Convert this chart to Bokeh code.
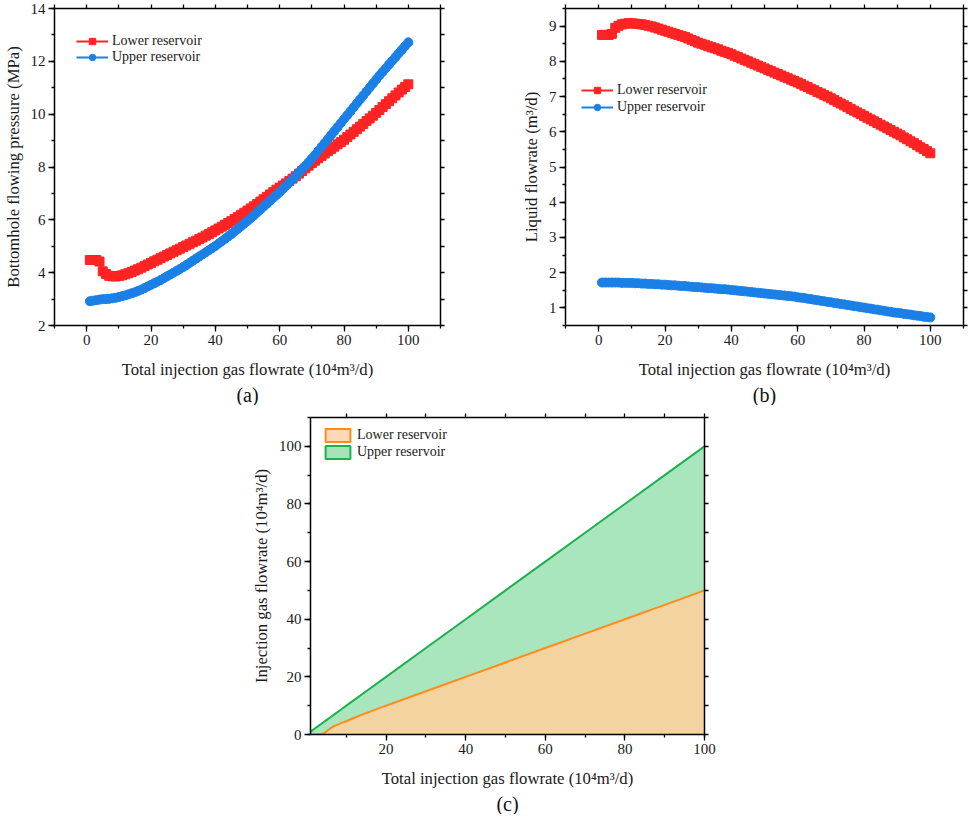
from bokeh.plotting import figure
from bokeh.models import (LinearAxis, SingleIntervalTicker, FixedTicker, Range1d, Legend,
                          LegendItem, Title, ColumnDataSource, Spacer)
from bokeh.layouts import row, column
from bokeh.embed import file_html
from bokeh.resources import INLINE

FONT = "Liberation Serif"
RED = "#FF2424"
BLUE = "#1A80E6"
ORANGE_LINE = "#FF8C1A"
GREEN_LINE = "#1DB04E"
ORANGE_FILL = "#F3D3A0"
GREEN_FILL = "#A9E5BD"
ORANGE_PATCH = "#FFD9B5"
GREEN_PATCH = "#A8E2BB"

# ---------------- data ----------------
total_gas = list(range(1, 101))

# (a) bottomhole flowing pressure (MPa)
bhp_lower = [4.48, 4.48, 4.48, 4.42, 4.05, 3.95, 3.88, 3.86, 3.86, 3.87,
             3.90, 3.94, 3.98, 4.03, 4.08, 4.13, 4.19, 4.25, 4.31, 4.37,
             4.43, 4.49, 4.55, 4.61, 4.67, 4.73, 4.79, 4.85, 4.91, 4.97,
             5.03, 5.09, 5.15, 5.21, 5.27, 5.33, 5.40, 5.46, 5.53, 5.60,
             5.67, 5.74, 5.81, 5.88, 5.95, 6.03, 6.11, 6.19, 6.27, 6.35,
             6.43, 6.51, 6.60, 6.69, 6.78, 6.87, 6.96, 7.05, 7.14, 7.22,
             7.30, 7.38, 7.47, 7.56, 7.65, 7.75, 7.85, 7.95, 8.05, 8.15,
             8.24, 8.33, 8.42, 8.51, 8.60, 8.68, 8.77, 8.86, 8.94, 9.03,
             9.13, 9.23, 9.33, 9.43, 9.53, 9.63, 9.74, 9.84, 9.94, 10.05,
             10.16, 10.27, 10.38, 10.49, 10.60, 10.71, 10.82, 10.93, 11.03, 11.13]
bhp_upper = [2.92, 2.94, 2.96, 2.98, 3.00, 3.00, 3.01, 3.03, 3.05, 3.08,
             3.11, 3.14, 3.18, 3.22, 3.26, 3.31, 3.36, 3.42, 3.48, 3.54,
             3.60, 3.66, 3.72, 3.79, 3.86, 3.93, 4.00, 4.07, 4.14, 4.21,
             4.29, 4.37, 4.45, 4.53, 4.61, 4.69, 4.77, 4.85, 4.93, 5.01,
             5.10, 5.19, 5.28, 5.37, 5.46, 5.56, 5.66, 5.76, 5.86, 5.96,
             6.06, 6.17, 6.28, 6.39, 6.50, 6.61, 6.72, 6.83, 6.94, 7.05,
             7.17, 7.29, 7.41, 7.53, 7.66, 7.79, 7.92, 8.05, 8.18, 8.32,
             8.46, 8.61, 8.76, 8.91, 9.06, 9.21, 9.36, 9.51, 9.66, 9.81,
             9.96, 10.11, 10.26, 10.41, 10.56, 10.71, 10.86, 11.01, 11.16, 11.31,
             11.46, 11.60, 11.74, 11.88, 12.02, 12.16, 12.30, 12.44, 12.58, 12.72]

# (b) liquid flowrate (m3/d)
liq_lower = [8.75, 8.75, 8.75, 8.78, 8.95, 9.01, 9.05, 9.07, 9.08, 9.08,
             9.07, 9.06, 9.05, 9.03, 9.01, 8.99, 8.96, 8.93, 8.90, 8.87,
             8.84, 8.81, 8.78, 8.75, 8.72, 8.69, 8.65, 8.61, 8.57, 8.53,
             8.50, 8.47, 8.43, 8.40, 8.37, 8.34, 8.30, 8.27, 8.24, 8.20,
             8.16, 8.12, 8.08, 8.04, 8.00, 7.96, 7.92, 7.88, 7.84, 7.80,
             7.76, 7.72, 7.68, 7.64, 7.60, 7.56, 7.52, 7.48, 7.44, 7.40,
             7.36, 7.31, 7.27, 7.22, 7.18, 7.13, 7.09, 7.04, 7.00, 6.95,
             6.90, 6.85, 6.80, 6.75, 6.70, 6.65, 6.60, 6.55, 6.50, 6.45,
             6.40, 6.35, 6.30, 6.25, 6.20, 6.15, 6.10, 6.05, 6.00, 5.95,
             5.90, 5.84, 5.79, 5.73, 5.68, 5.62, 5.56, 5.51, 5.45, 5.39]
liq_upper = [1.72, 1.72, 1.72, 1.72, 1.72, 1.72, 1.71, 1.71, 1.71, 1.71,
             1.70, 1.70, 1.69, 1.69, 1.68, 1.68, 1.67, 1.67, 1.66, 1.66,
             1.65, 1.64, 1.64, 1.63, 1.62, 1.62, 1.61, 1.60, 1.59, 1.59,
             1.58, 1.57, 1.56, 1.56, 1.55, 1.54, 1.53, 1.53, 1.52, 1.51,
             1.50, 1.49, 1.48, 1.47, 1.46, 1.45, 1.44, 1.43, 1.42, 1.41,
             1.40, 1.39, 1.38, 1.37, 1.36, 1.35, 1.34, 1.33, 1.32, 1.30,
             1.29, 1.28, 1.26, 1.25, 1.23, 1.22, 1.20, 1.19, 1.17, 1.16,
             1.14, 1.13, 1.11, 1.10, 1.08, 1.07, 1.05, 1.04, 1.02, 1.01,
             0.99, 0.98, 0.96, 0.95, 0.93, 0.92, 0.90, 0.89, 0.87, 0.86,
             0.85, 0.83, 0.82, 0.81, 0.79, 0.78, 0.77, 0.75, 0.74, 0.73]

# (c) injection gas split (10^4 m3/d)
c_total = [1, 2, 3, 4, 5, 6, 7, 8, 9, 10, 12, 15, 20, 30, 40, 50, 60, 70, 80, 90, 100]
c_lower = [0, 0, 0, 0.1, 1.0, 2.2, 3.0, 3.5, 4.1, 4.6, 5.8, 7.4, 10, 15, 20, 25, 30, 35, 40, 45, 50]
c_upper = [1, 2, 3, 3.9, 4.0, 3.8, 4.0, 4.5, 4.9, 5.4, 6.2, 7.6, 10, 15, 20, 25, 30, 35, 40, 45, 50]

X_LABEL = "Total injection gas flowrate (10\u2074m\u00b3/d)"

# tick positions for the mirrored (unlabelled) top / right axes
ticks_x_ab = [-10, 0, 10, 20, 30, 40, 50, 60, 70, 80, 90, 100, 110]
ticks_y_a = [2, 3, 4, 5, 6, 7, 8, 9, 10, 11, 12, 13, 14]
ticks_y_b = [0.5, 1, 1.5, 2, 2.5, 3, 3.5, 4, 4.5, 5, 5.5, 6, 6.5, 7, 7.5, 8, 8.5, 9, 9.5]
ticks_x_c = [10, 20, 30, 40, 50, 60, 70, 80, 90, 100]
ticks_y_c = [0, 10, 20, 30, 40, 50, 60, 70, 80, 90, 100, 110]


def style_axis(ax):
    ax.axis_line_color = "black"
    ax.axis_line_width = 1.5
    ax.major_tick_line_color = "black"
    ax.minor_tick_line_color = "black"
    ax.major_tick_line_width = 1.3
    ax.minor_tick_line_width = 1.3
    ax.major_tick_out = 6
    ax.major_tick_in = 0
    ax.minor_tick_out = 3
    ax.minor_tick_in = 0
    ax.major_label_text_font = FONT
    ax.major_label_text_font_size = "15px"
    ax.major_label_text_color = "#1a1a1a"
    ax.major_label_standoff = 3
    ax.axis_label_text_font = FONT
    ax.axis_label_text_font_size = "16.7px"
    ax.axis_label_text_font_style = "normal"
    ax.axis_label_text_color = "#1a1a1a"


def mirror_axis(ticks):
    ax = LinearAxis(ticker=FixedTicker(ticks=[], minor_ticks=ticks))
    ax.axis_line_color = "black"
    ax.axis_line_width = 1.5
    ax.minor_tick_line_color = "black"
    ax.minor_tick_line_width = 1.3
    ax.minor_tick_out = 4
    ax.minor_tick_in = 0
    ax.major_tick_out = 0
    ax.major_tick_in = 0
    return ax


def make_fig(width, height, xr, yr, xint, yint, borders, xlabel, ylabel, caption,
             top_ticks, right_ticks):
    left, right, top, bottom = borders
    p = figure(width=width, height=height, x_range=Range1d(*xr), y_range=Range1d(*yr),
               output_backend="svg", toolbar_location=None,
               min_border_left=left, min_border_right=right,
               min_border_top=top, min_border_bottom=bottom)
    p.grid.visible = False
    p.outline_line_color = None
    p.xaxis[0].ticker = SingleIntervalTicker(interval=xint, num_minor_ticks=2)
    p.yaxis[0].ticker = SingleIntervalTicker(interval=yint, num_minor_ticks=2)
    p.xaxis[0].axis_label = xlabel
    p.yaxis[0].axis_label = ylabel
    style_axis(p.xaxis[0])
    style_axis(p.yaxis[0])
    p.xaxis[0].axis_label_standoff = 12
    p.yaxis[0].axis_label_standoff = 5
    p.add_layout(mirror_axis(top_ticks), "above")
    p.add_layout(mirror_axis(right_ticks), "right")
    p.add_layout(Title(text=caption, align="center", text_font=FONT, text_font_size="20px",
                       text_font_style="normal", text_color="#111111", standoff=0), "below")
    return p


def make_legend(items, loc, spacing, glyph_width):
    return Legend(items=items, location=loc, glyph_width=glyph_width, glyph_height=16,
                  label_height=16, spacing=spacing, padding=0, margin=0,
                  border_line_color=None, background_fill_alpha=0,
                  label_text_font=FONT, label_text_font_size="14px",
                  label_text_color="#1a1a1a", label_standoff=4)


# ---------------- (a) ----------------
pa = make_fig(478, 405, (-10, 110), (2, 14), 20, 2, (43, 38, 8, 77),
              X_LABEL, "Bottomhole flowing pressure (MPa)", "(a)", ticks_x_ab, ticks_y_a)
src_a = ColumnDataSource(dict(x=total_gas, lower=bhp_lower, upper=bhp_upper))
ra1 = pa.line("x", "lower", source=src_a, color=RED, line_width=2)
ra2 = pa.scatter("x", "lower", source=src_a, marker="square", size=9, color=RED)
ra3 = pa.line("x", "upper", source=src_a, color=BLUE, line_width=2)
ra4 = pa.scatter("x", "upper", source=src_a, marker="circle", size=9, color=BLUE)
pa.add_layout(make_legend([LegendItem(label="Lower reservoir", renderers=[ra1, ra2]),
                           LegendItem(label="Upper reservoir", renderers=[ra3, ra4])],
                          (22, 260), 0, 32))

# ---------------- (b) ----------------
pb = make_fig(490, 405, (-10, 110), (0.5, 9.5), 20, 1, (87, 5, 8, 77),
              X_LABEL, "Liquid flowrate (m\u00b3/d)", "(b)", ticks_x_ab, ticks_y_b)
src_b = ColumnDataSource(dict(x=total_gas, lower=liq_lower, upper=liq_upper))
rb1 = pb.line("x", "lower", source=src_b, color=RED, line_width=2)
rb2 = pb.scatter("x", "lower", source=src_b, marker="square", size=9, color=RED)
rb3 = pb.line("x", "upper", source=src_b, color=BLUE, line_width=2)
rb4 = pb.scatter("x", "upper", source=src_b, marker="circle", size=9, color=BLUE)
pb.add_layout(make_legend([LegendItem(label="Lower reservoir", renderers=[rb1, rb2]),
                           LegendItem(label="Upper reservoir", renderers=[rb3, rb4])],
                          (16, 210), 1, 32))

# ---------------- (c) ----------------
pc = make_fig(476, 409, (1, 100), (0, 110), 20, 20, (61, 20, 12, 77),
              X_LABEL, "Injection gas flowrate (10\u2074m\u00b3/d)", "(c)", ticks_x_c, ticks_y_c)
src_c = ColumnDataSource(dict(x=c_total, lower=c_lower, upper=c_upper))
pc.varea_stack(["lower", "upper"], x="x", color=[ORANGE_FILL, GREEN_FILL], source=src_c)
pc.vline_stack(["lower", "upper"], x="x", color=[ORANGE_LINE, GREEN_LINE], line_width=2,
               source=src_c)
# zero-size quads on the lower curve, used only for the bordered legend patches
qa = pc.quad(left="x", right="x", top="lower", bottom="lower", source=src_c,
             fill_color=ORANGE_PATCH, line_color=ORANGE_LINE, line_width=2)
qb = pc.quad(left="x", right="x", top="lower", bottom="lower", source=src_c,
             fill_color=GREEN_PATCH, line_color=GREEN_LINE, line_width=2)
legc = make_legend([LegendItem(label="Lower reservoir", renderers=[qa]),
                    LegendItem(label="Upper reservoir", renderers=[qb])], (12, 274), 1, 31)
pc.add_layout(legc)

layout = column(row(pa, pb), row(Spacer(width=248, height=409), pc))

with open("out.html", "w") as f:
    f.write(file_html(layout, INLINE))
